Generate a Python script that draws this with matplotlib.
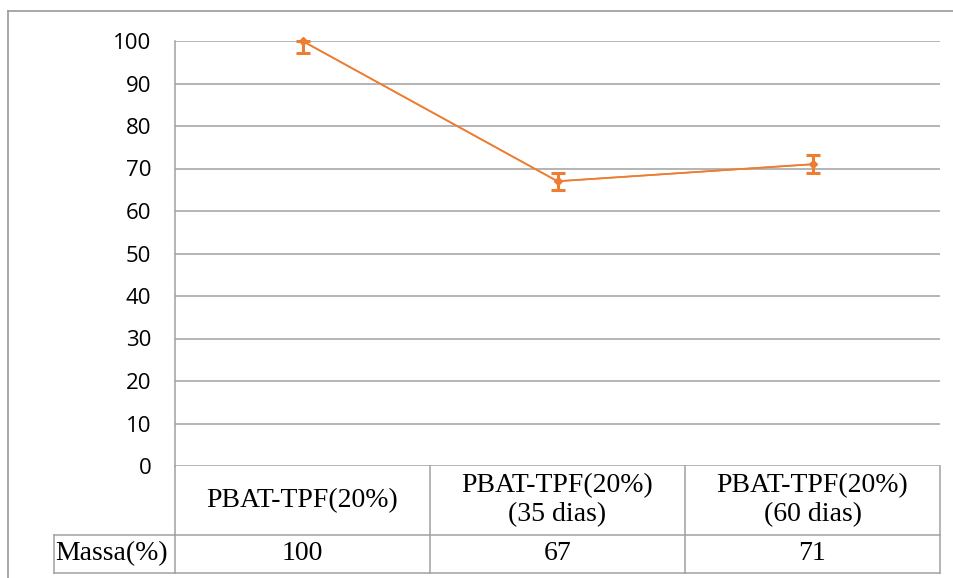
import matplotlib.pyplot as plt
from matplotlib.lines import Line2D

# data
categories = ['PBAT-TPF(20%)', 'PBAT-TPF(20%)\n(35 dias)', 'PBAT-TPF(20%)\n(60 dias)']
massa = [100, 67, 71]
err_low = [2.8, 2.0, 2.1]
err_high = [0.0, 2.0, 2.1]
row_label = 'Massa(%)'
yticks = list(range(0, 101, 10))

orange = '#ED7D31'
grid_gray = '#a0a0a0'
W, H = 954, 578

fig = plt.figure(figsize=(W / 100, H / 100), dpi=100)
ax = fig.add_axes([175 / W, 1 - 466 / H, 765 / W, 425 / H])

x = list(range(len(categories)))
ax.errorbar(x, massa, yerr=[err_low, err_high], color=orange, lw=1.2,
            marker='D', ms=4, capsize=5, capthick=2.2, elinewidth=2.2,
            clip_on=False, zorder=3)
ax.plot(x, massa, color=orange, lw=1.2, zorder=4, clip_on=False)

ax.set_xlim(-0.5, len(categories) - 0.5)
ax.set_ylim(0, 100)
ax.set_yticks(yticks)
ax.set_yticklabels([str(t) for t in yticks], fontsize=16, family='Open Sans')
ax.tick_params(axis='y', length=0, pad=17)
ax.set_xticks([])
ax.grid(axis='y', color=grid_gray, lw=1.1)
ax.set_axisbelow(True)
for s in ['top', 'right', 'bottom']:
    ax.spines[s].set_visible(False)
ax.spines['left'].set_color(grid_gray)
ax.spines['left'].set_linewidth(1.1)

# data table under the axis
hdr_h = 69 / 425
row_h = 38 / 425
lab_x = (54 - 175) / 765
n = len(categories)
tr = ax.transAxes
line_kw = dict(transform=tr, color=grid_gray, lw=1.1, clip_on=False)
ax.add_line(Line2D([0, 1], [-hdr_h, -hdr_h], **line_kw))
ax.add_line(Line2D([lab_x, 1], [-hdr_h - row_h] * 2, **line_kw))
ax.add_line(Line2D([lab_x, lab_x], [-hdr_h, -hdr_h - row_h], **line_kw))
ax.add_line(Line2D([0, 0], [0, -hdr_h - row_h], **line_kw))
ax.add_line(Line2D([lab_x, 0], [-hdr_h, -hdr_h], **line_kw))
for i in range(1, n + 1):
    ax.add_line(Line2D([i / n, i / n], [0, -hdr_h - row_h], **line_kw))

txt_kw = dict(transform=tr, ha='center', va='center', fontsize=20,
              family='Liberation Serif', linespacing=1.2)
for i, (c, v) in enumerate(zip(categories, massa)):
    xc = (i + 0.5) / n
    ax.text(xc, -hdr_h / 2, c, **txt_kw)
    ax.text(xc, -hdr_h - row_h / 2, str(v), **txt_kw)
ax.text(lab_x / 2 - 0.004, -hdr_h - row_h / 2, row_label, **txt_kw)

# outer chart border
fig.add_artist(Line2D([8.5 / W, 8.5 / W], [0, 1 - 10.5 / H],
                      transform=fig.transFigure, color=grid_gray, lw=1.3))
fig.add_artist(Line2D([8.5 / W, 1], [1 - 10.5 / H] * 2,
                      transform=fig.transFigure, color=grid_gray, lw=1.3))

fig.savefig('out.png', dpi=100)
